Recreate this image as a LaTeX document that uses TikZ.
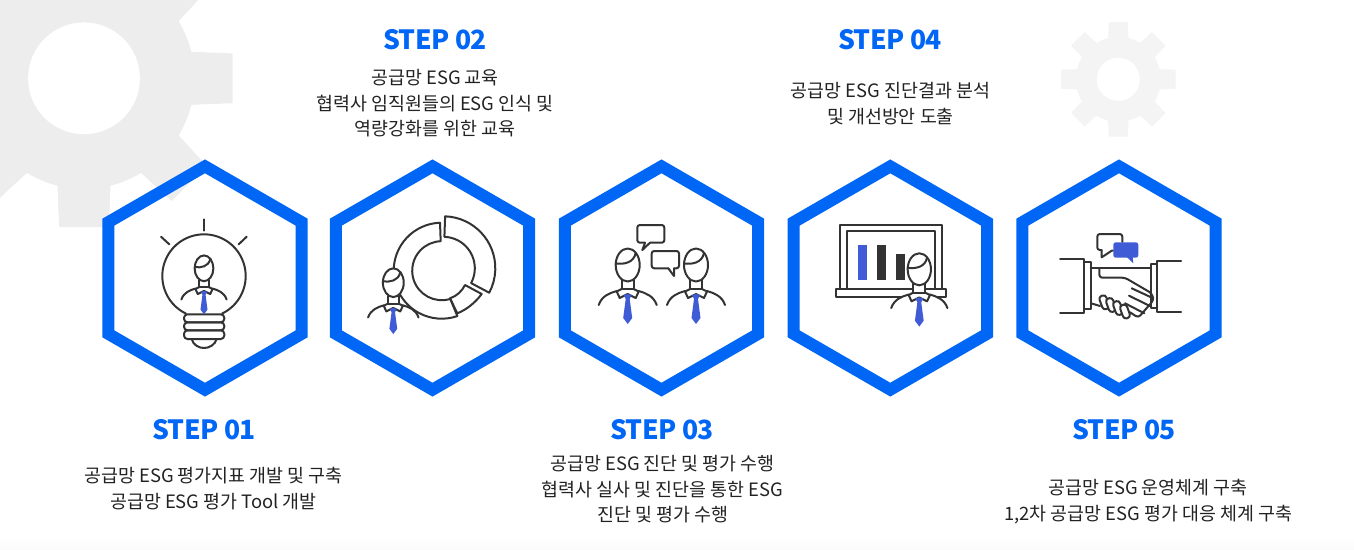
\documentclass[tikz,border=0pt]{standalone}
\usepackage{fontspec}
\setmainfont{Noto Sans CJK KR}
\usetikzlibrary{shapes.geometric, positioning}
\definecolor{stepblue}{HTML}{0066F5}
\definecolor{tieblue}{HTML}{3F5BD5}
\definecolor{inkgray}{HTML}{333333}
\definecolor{textgray}{HTML}{222222}

\begin{document}
\begin{tikzpicture}[x=1pt,y=-1pt,
  hexbox/.style={regular polygon,regular polygon sides=6,shape border rotate=30,draw=stepblue,line width=12pt,minimum size=223.3pt,inner sep=0pt,outer sep=0pt},
  title/.style={text=stepblue,font=\fontsize{26.5}{30}\selectfont\bfseries\addfontfeatures{LetterSpace=-2},inner sep=0pt,anchor=center},
  desc/.style={text=textgray,align=center,font=\fontsize{18.4}{25.5}\selectfont,inner sep=0pt,anchor=center},
  icon/.style={draw=inkgray,line width=2pt,line join=round,line cap=round},
  gearshape/.pic={
    \fill (0,0) circle [radius=42.5];
    \foreach \a in {0,45,...,315}
      \fill (\a-14.5:41) -- (\a-9.5:58) -- (\a+9.5:58) -- (\a+14.5:41) -- cycle;
    \fill[white] (0,0) circle [radius=21.5];
  },
  person/.pic={
    \fill[white] (-29,40) .. controls (-26,31) and (-18,28) .. (-11,26) -- (-6,24) -- (-6,15) -- (6,15) -- (6,24) -- (11,26) .. controls (18,28) and (26,31) .. (29,40) -- cycle;
    \draw[icon] (-29,40) .. controls (-26,31) and (-18,28) .. (-11,26);
    \draw[icon] (29,40) .. controls (26,31) and (18,28) .. (11,26);
    \draw[icon] (-6,15) -- (-6,24) (6,15) -- (6,24) (-6,24) -- (6,24);
    \draw[icon] (-6,24) -- (-11,26.5) -- (-8,33) -- (0,29) -- (8,33) -- (11,26.5) -- (6,24);
    \fill[tieblue] (-4,30) -- (0,29) -- (4,30) -- (2,34) -- (4.5,53) -- (0,59) -- (-4.5,53) -- (-2,34) -- cycle;
    \draw[icon,fill=white] (0,0) ellipse [x radius=12,y radius=16.5];
    \draw[icon] (-12,-1.5) .. controls (-4,-0.5) and (6,-2) .. (8,-12);
  }
]
  \useasboundingbox (0,0) rectangle (1354,549);

  % background
  \shade[top color=white,bottom color=black!1.5] (0,536) rectangle (1354,549);
  \begin{scope}
    \clip (0,0) rectangle (1354,549);
    \pic[fill=black!7,scale=2.6] at (84,78.3) {gearshape};
  \end{scope}
  \pic[fill=black!4.5,scale=1] at (1118.3,79.3) {gearshape};

  % hexagons
  \node[hexbox](hex1) at (205,278) {};
  \node[hexbox](hex2) at (432.5,278) {};
  \node[hexbox](hex3) at (661.5,278) {};
  \node[hexbox](hex4) at (890.3,278) {};
  \node[hexbox](hex5) at (1119,278) {};

  % texts
  \node[title](title1) at (204,430) {STEP 01};
  \node[desc](desc1) at (213.5,488.5) {공급망 ESG 평가지표 개발 및 구축\\공급망 ESG 평가 Tool 개발};
  \node[title](title2) at (435,40) {STEP 02};
  \node[desc](desc2) at (435,103.5) {공급망 ESG 교육\\협력사 임직원들의 ESG 인식 및\hspace*{4pt}\\역량강화를 위한 교육};
  \node[title](title3) at (662,430) {STEP 03};
  \node[desc](desc3) at (662.5,489.5) {공급망 ESG 진단 및 평가 수행\\협력사 실사 및 진단을 통한 ESG\\진단 및 평가 수행};
  \node[title](title4) at (890,40) {STEP 04};
  \node[desc](desc4) at (890.5,103.5) {공급망 ESG 진단결과 분석\\및 개선방안 도출};
  \node[title](title5) at (1124,430) {STEP 05};
  \node[desc](desc5) at (1148,501.5) {공급망 ESG 운영체계 구축\\1,2차 공급망 ESG 평가 대응 체계 구축};

  % step 01: bulb
  \draw[icon] (204,276) ++(115.8:41.7) arc [start angle=115.8,end angle=424.2,radius=41.7];
  \draw[icon] (204,219.3) -- (204,230.7);
  \draw[icon] (161,236.7) -- (169.3,244.3);
  \draw[icon] (246.7,236.7) -- (238.7,244.3);
  \draw[icon,rounded corners=3.5] (184,314.3) rectangle (224.3,322.3);
  \draw[icon,rounded corners=3.5] (184,322.3) rectangle (224.3,330.3);
  \draw[icon,rounded corners=3.5] (184,330.3) rectangle (224.3,339);
  \draw[icon] (191.7,339) .. controls (193,345) and (199,348) .. (204,348) .. controls (209,348) and (215,345) .. (216.7,339);
  \pic[scale=0.78] at (204,268.3) {person};

  % step 02: donut
  \draw[icon,shift={(443.3,268.3)}] (-88:52) arc [start angle=-88,end angle=28,radius=52] -- (28:31.5) arc [start angle=28,end angle=-88,radius=31.5] -- cycle;
  \draw[icon] (457.3,313.3) .. controls (466,310) and (475,303) .. (481.7,294) -- (465,285) .. controls (462,291) and (457,296) .. (450,298.3) -- cycle;
  \draw[icon,shift={(441.7,270.7)}] (268:48) arc [start angle=268,end angle=71,radius=48] -- (73:29.5) arc [start angle=73,end angle=268,radius=29.5] -- cycle;
  \pic[scale=0.87] at (393.3,282.7) {person};

  % step 03: talk
  \pic at (627.7,265) {person};
  \pic at (696,265) {person};
  \draw[icon,rounded corners=2.5] (645,242.7) -- (637.3,242.7) -- (637.3,225) -- (664.3,225) -- (664.3,242.7) -- (650,242.7);
  \draw[icon] (645,242.7) -- (642.3,250) -- (650,242.7);
  \draw[icon,rounded corners=2.5] (668.3,268.3) -- (651.7,268.3) -- (651.7,251) -- (679,251) -- (679,268.3) -- (674,268.3);
  \draw[icon] (668.3,268.3) -- (674,276) -- (674,268.3);

  % step 04: board
  \draw[icon,line cap=butt] (840,289.3) -- (840,225) -- (941.7,225) -- (941.7,289.3);
  \draw[icon,line cap=butt] (847.3,289.3) -- (847.3,231) -- (935,231) -- (935,289.3);
  \draw[icon,fill=white] (836,289.3) rectangle (945.7,297.3);
  \fill[tieblue] (858,245) rectangle (867,280);
  \fill[inkgray] (877,245) rectangle (886,280);
  \fill[inkgray] (896,254.3) rectangle (905,280);
  \pic[scale=0.97] at (919.3,269.3) {person};

  % step 05: handshake
  \draw[icon] (1060,259) -- (1084,259) -- (1084,312.7) -- (1060,312.7);
  \draw[icon] (1084,262.3) rectangle (1090.7,309);
  \draw[icon] (1181,260.7) -- (1156.7,260.7) -- (1156.7,311.7) -- (1181,311.7);
  \draw[icon] (1150.7,264.3) rectangle (1156.7,308.3);
  \draw[icon] (1090.7,268.3) -- (1150.7,268.3);
  \draw[icon] (1091,303.3) -- (1100,306);
  \draw[icon,rounded corners=3] (1099.3,268.3) -- (1099.3,277.7) -- (1125,277.7) -- (1151.7,293.3) -- (1153.7,300) -- (1138.3,317.7) -- (1130,312.3);
  \draw[icon] (1131.7,288.3) -- (1153.3,298.3);
  \draw[icon] (1129,295.7) -- (1151,306.5);
  \draw[icon] (1125,303.3) -- (1144.3,313.3);
  \foreach \fx/\fy in {1104.3/302.3,1111/305,1118/308,1125/311.5}
    \draw[icon,fill=white,rotate around={20:(\fx,\fy)},rounded corners=3] (\fx-3.6,\fy-7) rectangle (\fx+3.6,\fy+7);
  \draw[icon,rounded corners=2.5] (1101.7,250) -- (1097.3,250) -- (1097.3,234) -- (1122.3,234) -- (1122.3,242);
  \draw[icon] (1101.7,250) -- (1101.7,257.3) -- (1111.7,250.7) -- (1113,250.7);
  \fill[tieblue,rounded corners=2.5] (1113.3,242.3) rectangle (1138.3,257.7);
  \fill[tieblue] (1126.7,257) -- (1133.3,263.3) -- (1132.7,257) -- cycle;
\end{tikzpicture}
\end{document}
